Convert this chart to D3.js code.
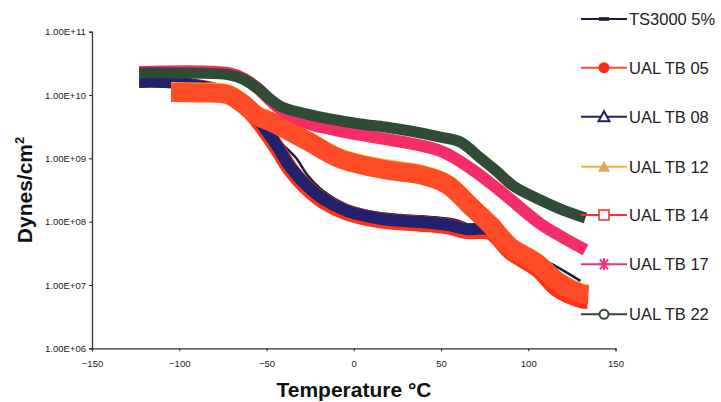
<!DOCTYPE html>
<html><head><meta charset="utf-8">
<script src="https://cdn.jsdelivr.net/npm/d3@7"></script>
<style>
html,body{margin:0;padding:0;background:#fff;}
svg{display:block;font-family:"Liberation Sans",Arial,sans-serif;}
</style></head><body>
<svg id="chart" width="721" height="402"></svg>
<script>
// Axis ticks
const xTicks = [-150, -100, -50, 0, 50, 100, 150];
const yTicks = [1e6, 1e7, 1e8, 1e9, 1e10, 1e11];
const yTickLabels = ["1.00E+06", "1.00E+07", "1.00E+08", "1.00E+09", "1.00E+10", "1.00E+11"];

// Series names (plot order)
const seriesNames = ["TS3000 5%", "UAL TB 05", "UAL TB 08", "UAL TB 12", "UAL TB 14", "UAL TB 17", "UAL TB 22"];

// Storage modulus (dynes/cm²) against temperature (°C)
const tempTS3000 = [-123.0, -101.2, -72.6, -59.4, -50.8, -42.2, -33.0, -26.7, -17.5, -3.7, 11.2, 26.7, 43.9, 58.2, 66.8, 78.3, 89.8, 105.3, 116.7, 129.9];
const dynTS3000  = [1.49e10, 1.44e10, 1.08e10, 5.8e9, 3.24e9, 1.81e9, 1.01e9, 5.5e8, 3.05e8, 1.83e8, 1.42e8, 1.27e8, 1.19e8, 1.06e8, 8.6e7, 5.9e7, 4.4e7, 2.77e7, 1.92e7, 1.16e7];

const tempTB05 = [-101.2, -72.6, -59.4, -51.9, -43.9, -36.4, -26.7, -17.5, -3.7, 9.5, 20.9, 38.1, 53.6, 65.1, 78.3, 89.8, 105.3, 116.7, 129.9, 134.0];
const dynTB05  = [1.47e10, 1.02e10, 5.4e9, 3.0e9, 1.45e9, 6.8e8, 3.4e8, 2.12e8, 1.38e8, 1.12e8, 1.0e8, 9.3e7, 8.4e7, 7.1e7, 6.8e7, 3.3e7, 1.75e7, 8.5e6, 5.8e6, 5.6e6];

const tempTB08 = [-123.0, -101.2, -72.6, -59.4, -51.9, -43.9, -36.4, -26.7, -17.5, -3.7, 9.5, 20.9, 38.1, 53.6, 65.1, 78.3, 89.8, 105.3, 116.7, 129.9];
const dynTB08  = [1.61e10, 1.55e10, 1.08e10, 5.8e9, 3.24e9, 1.57e9, 7.3e8, 3.66e8, 2.28e8, 1.47e8, 1.19e8, 1.06e8, 9.9e7, 8.9e7, 7.6e7, 7.5e7, 3.56e7, 2.0e7, 1.07e7, 6.95e6];

const tempTB12 = [-104.7, -88.1, -72.6, -62.2, -55.4, -46.2, -26.7, -7.7, 19.2, 38.1, 53.6, 66.8, 78.3, 89.8, 105.3, 116.7, 129.9, 134.5];
const dynTB12  = [1.27e10, 1.24e10, 1.18e10, 7.9e9, 5.4e9, 4.18e9, 2.17e9, 1.13e9, 7.6e8, 6.3e8, 4.47e8, 2.05e8, 1.02e8, 4.6e7, 2.52e7, 1.31e7, 8.5e6, 8.0e6];

const tempTB14 = [-104.7, -88.1, -72.6, -62.2, -55.4, -46.2, -26.7, -7.7, 19.2, 38.1, 53.6, 66.8, 78.3, 89.8, 105.3, 116.7, 129.9, 134.5];
const dynTB14  = [1.10e10, 1.08e10, 1.02e10, 6.8e9, 4.67e9, 3.61e9, 1.88e9, 9.8e8, 6.5e8, 5.5e8, 3.86e8, 1.77e8, 8.85e7, 3.98e7, 2.18e7, 1.14e7, 7.3e6, 6.95e6];

const tempTB17 = [-123.0, -70.8, -62.2, -55.4, -42.2, -26.7, -13.5, 3.7, 18.1, 49.6, 66.8, 84.0, 107.0, 118.5, 132.8];
const dynTB17  = [2.31e10, 2.19e10, 1.75e10, 1.30e10, 6.0e9, 3.61e9, 2.91e9, 2.34e9, 2.02e9, 1.31e9, 7.0e8, 3.05e8, 9.2e7, 5.9e7, 3.56e7];

const tempTB22 = [-123.0, -102.4, -70.8, -62.2, -55.4, -42.2, -26.7, -13.5, 3.7, 18.1, 32.4, 49.6, 61.1, 72.6, 81.2, 91.5, 107.0, 118.5, 132.8];
const dynTB22  = [2.23e10, 2.23e10, 2.07e10, 1.73e10, 1.29e10, 6.7e9, 5.0e9, 4.18e9, 3.49e9, 3.12e9, 2.70e9, 2.17e9, 1.81e9, 1.01e9, 6.5e8, 3.66e8, 2.2e8, 1.58e8, 1.14e8];

// Visual style per series
const styles = [
  {color: "#1c1c40", width: 2.5, legendColor: "#1c1c40", marker: "dash"},
  {color: "#ff3318", width: 16,  legendColor: "#ff4a30", marker: "dot"},
  {color: "#23216e", width: 12,  legendColor: "#23216e", marker: "triangleOpen"},
  {color: "#ffad2a", width: 13,  legendColor: "#ffb236", marker: "triangleFilled", fill: "#e8a35c"},
  {color: "#ff4c26", width: 19,  legendColor: "#f03434", marker: "square"},
  {color: "#f52d69", width: 12,  legendColor: "#f5307a", marker: "asterisk"},
  {color: "#304b36", width: 11,  legendColor: "#304b36", marker: "circleOpen"}
];

const temps = [tempTS3000, tempTB05, tempTB08, tempTB12, tempTB14, tempTB17, tempTB22];
const dyns  = [dynTS3000, dynTB05, dynTB08, dynTB12, dynTB14, dynTB17, dynTB22];

const series = seriesNames.map((name, i) => ({
  name,
  style: styles[i],
  points: temps[i].map((t, j) => ({t, v: dyns[i][j]}))
}));

const svg = d3.select("#chart");

const x = d3.scaleLinear().domain([-150, 150]).range([92, 615.5]);
const y = d3.scaleLog().domain([1e6, 1e11]).range([348.3, 31.7]);

// Curves
const line = d3.line()
  .x(d => x(d.t))
  .y(d => y(d.v))
  .curve(d3.curveCatmullRom.alpha(0.5));

svg.append("g").selectAll("path")
  .data(series)
  .join("path")
  .attr("d", d => line(d.points))
  .attr("fill", "none")
  .attr("stroke", d => d.style.color)
  .attr("stroke-width", d => d.style.width)
  .attr("stroke-linejoin", "round")
  .attr("stroke-linecap", "butt");

// Axes
const yAxis = d3.axisLeft(y)
  .tickValues(yTicks)
  .tickFormat((d, i) => yTickLabels[i])
  .tickSize(3)
  .tickPadding(3);

const xAxis = d3.axisBottom(x)
  .tickValues(xTicks)
  .tickFormat(d3.format("d"))
  .tickSize(3)
  .tickPadding(9);

const gy = svg.append("g").attr("transform", "translate(92,0)").call(yAxis);
const gx = svg.append("g").attr("transform", "translate(0,348.3)").call(xAxis);

[gx, gy].forEach(g => {
  g.select(".domain").attr("stroke", "#333").attr("stroke-width", 1.3);
  g.selectAll(".tick line").attr("stroke", "#333").attr("stroke-width", 1.1);
  g.selectAll(".tick text")
    .attr("fill", "#222")
    .style("font-family", '"Liberation Sans", Arial, sans-serif')
    .style("font-size", "9.5px");
});
gy.selectAll(".tick text").attr("textLength", 41).attr("lengthAdjust", "spacingAndGlyphs");

// Axis titles
svg.append("text")
  .attr("x", 354).attr("y", 397)
  .attr("text-anchor", "middle")
  .style("font-size", "21px").style("font-weight", "bold").attr("fill", "#111")
  .text("Temperature °C");

const yTitle = svg.append("text")
  .attr("transform", "translate(32,190) rotate(-90)")
  .attr("text-anchor", "middle")
  .style("font-size", "21px").style("font-weight", "bold").attr("fill", "#111");
yTitle.append("tspan").text("Dynes/cm");
yTitle.append("tspan").attr("dy", "-0.6em").style("font-size", "13px").text("2");

// Legend
const legendRows = [19, 67.7, 116.7, 166.7, 215, 264.3, 314.3];
const legend = svg.append("g");
series.forEach((s, i) => {
  const cy = legendRows[i];
  const g = legend.append("g").attr("transform", `translate(0,${cy})`);
  g.append("line").attr("x1", 581).attr("x2", 627).attr("y1", 0).attr("y2", 0)
    .attr("stroke", s.style.legendColor).attr("stroke-width", 2);
  const mx = 604;
  const c = s.style.legendColor;
  switch (s.style.marker) {
    case "dash":
      g.append("rect").attr("x", mx - 5).attr("y", -1.8).attr("width", 10).attr("height", 3.6).attr("fill", c);
      break;
    case "dot":
      g.append("circle").attr("cx", mx).attr("cy", 0).attr("r", 5.5).attr("fill", "#ff2a14");
      break;
    case "triangleOpen":
      g.append("path").attr("d", `M${mx},-5.5L${mx + 5.5},4.5L${mx - 5.5},4.5Z`)
        .attr("fill", "#fff").attr("stroke", c).attr("stroke-width", 2);
      break;
    case "triangleFilled":
      g.append("path").attr("d", `M${mx},-6L${mx + 6},5L${mx - 6},5Z`).attr("fill", s.style.fill);
      break;
    case "square":
      g.append("rect").attr("x", mx - 5).attr("y", -5).attr("width", 10).attr("height", 10)
        .attr("fill", "#fff").attr("stroke", c).attr("stroke-width", 1.6);
      break;
    case "asterisk":
      [[-6, 0, 6, 0], [-4, -5, 4, 5], [-4, 5, 4, -5], [0, -6, 0, 6]].forEach(p => {
        g.append("line").attr("x1", mx + p[0]).attr("y1", p[1]).attr("x2", mx + p[2]).attr("y2", p[3])
          .attr("stroke", c).attr("stroke-width", 2);
      });
      break;
    case "circleOpen":
      g.append("circle").attr("cx", mx).attr("cy", 0).attr("r", 4.5)
        .attr("fill", "#fff").attr("stroke", c).attr("stroke-width", 2);
      break;
  }
  g.append("text").attr("x", 629).attr("y", 0).attr("dy", "0.36em")
    .style("font-size", "16.5px").attr("fill", "#222").text(s.name);
});
</script>
</body></html>
